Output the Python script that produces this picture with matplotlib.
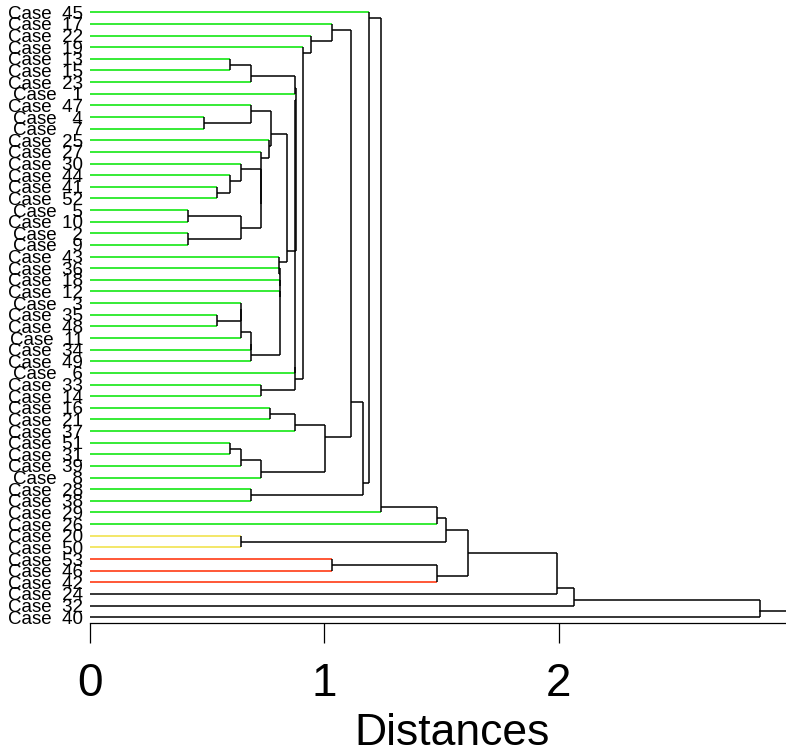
import matplotlib
matplotlib.use("Agg")
import matplotlib.pyplot as plt

# leaf order, top to bottom
LEAVES = [45, 17, 22, 19, 13, 15, 23, 1, 47, 4, 7, 25, 27, 30, 44, 41, 52,
          5, 10, 2, 9, 43, 36, 18, 12, 3, 35, 48, 11, 34, 49, 6, 33, 14,
          16, 21, 37, 51, 31, 39, 8, 28, 38, 29, 26, 20, 50, 53, 46, 42,
          24, 32, 40]
YELLOW_CASES = [20, 50]
RED_CASES = [53, 46, 42]
BLACK_CASES = [24, 32, 40]

# merges: (node, upper child, lower child, distance); ints are cases
MERGES = [
    ("A1", 13, 15, 0.596), ("A2", "A1", 23, 0.687),
    ("B1", 4, 7, 0.487), ("B2", 47, "B1", 0.687),
    ("C1", 41, 52, 0.542), ("C2", 44, "C1", 0.596), ("C3", 30, "C2", 0.644),
    ("D1", 5, 10, 0.420), ("D2", 2, 9, 0.420), ("D3", "D1", "D2", 0.643),
    ("F", "C3", "D3", 0.731), ("G", 27, "F", 0.729),
    ("H1", 25, "G", 0.765), ("H2", "B2", "H1", 0.771),
    ("K0", 35, 48, 0.542), ("K1", 3, "K0", 0.643), ("K1b", "K1", 11, 0.644),
    ("K2", "K1b", 34, 0.687), ("K3", "K2", 49, 0.688),
    ("J1", 12, "K3", 0.811), ("J2", 18, "J1", 0.810),
    ("J3", 36, "J2", 0.809), ("J", 43, "J3", 0.808),
    ("I", "H2", "J", 0.842),
    ("P1", "A2", 1, 0.876), ("P2", "P1", "I", 0.879), ("P3", "P2", 6, 0.874),
    ("Q", 33, 14, 0.730), ("P4", "P3", "Q", 0.875),
    ("R19", 19, "P4", 0.909), ("S22", 22, "R19", 0.942),
    ("S17", 17, "S22", 1.033),
    ("W1a", 16, 21, 0.768), ("W1", "W1a", 37, 0.876),
    ("W2a", 51, 31, 0.596), ("W2b", "W2a", 39, 0.643), ("W2", "W2b", 8, 0.730),
    ("W", "W1", "W2", 1.003), ("X", "S17", "W", 1.113),
    ("Z", 28, 38, 0.686), ("Y", "X", "Z", 1.166),
    ("AA", 45, "Y", 1.191), ("AB", "AA", 29, 1.241), ("M", "AB", 26, 1.480),
    ("YL", 20, 50, 0.643), ("N", "M", "YL", 1.519),
    ("RQ", 53, 46, 1.032), ("R", "RQ", 42, 1.480),
    ("S", "N", "R", 1.613), ("T", "S", 24, 1.992),
    ("U", "T", 32, 2.066), ("V", "U", 40, 2.860),
]
XTICKS = [0, 1, 2]

GREEN_C, YELLOW_C, RED_C = "#00e600", "#f0e040", "#ff2a00"

plt.rcParams["font.family"] = ["Liberation Sans", "DejaVu Sans"]

# positions: leaf index; node sits between the boundary leaves of its children
ypos = {c: i for i, c in enumerate(LEAVES)}
height = {c: 0.0 for c in LEAVES}
members = {c: [c] for c in LEAVES}
for name, a, b, h in MERGES:
    members[name] = members[a] + members[b]
    ypos[name] = (ypos[members[a][-1]] + ypos[members[b][0]]) / 2
    height[name] = h

def leaf_color(c):
    if c in YELLOW_CASES:
        return YELLOW_C
    if c in RED_CASES:
        return RED_C
    if c in BLACK_CASES:
        return "black"
    return GREEN_C

fig = plt.figure(figsize=(7.86, 7.54), dpi=100)
ax = fig.add_axes([90 / 786, 1 - 623 / 754, 696 / 786, 623 / 754])

LW = 1.1
for name, a, b, h in MERGES:
    for c in (a, b):
        ax.plot([h, h], [ypos[name], ypos[c]], color="black", lw=LW,
                zorder=3, solid_capstyle="butt")
        if isinstance(c, int):
            ax.plot([0, h], [ypos[c], ypos[c]], color=leaf_color(c), lw=LW,
                    zorder=2, solid_capstyle="butt")
        else:
            ax.plot([height[c], h], [ypos[c], ypos[c]], color="black",
                    lw=LW, zorder=3, solid_capstyle="butt")

root = MERGES[-1][0]
ax.plot([height[root], 3.05], [ypos[root], ypos[root]], color="black",
        lw=LW, zorder=3)

ax.set_xlim(0, 2.97)
ax.set_ylim(52.5, -1.06)
ax.set_yticks(range(len(LEAVES)))
ax.set_yticklabels([f"Case  {c:>2}" for c in LEAVES])
ax.tick_params(axis="y", length=0, pad=5, labelsize=13.5)
ax.set_xticks(XTICKS)
ax.set_xticklabels([str(t) for t in XTICKS])
ax.tick_params(axis="x", length=14.4, width=0.9, pad=13.5, labelsize=33)
for s in ("top", "right", "left"):
    ax.spines[s].set_visible(False)
ax.spines["bottom"].set_linewidth(0.9)
ax.set_xlabel("Distances", fontsize=32)
ax.xaxis.set_label_coords(0.52, -0.145)

fig.savefig("out.png", dpi=100)
